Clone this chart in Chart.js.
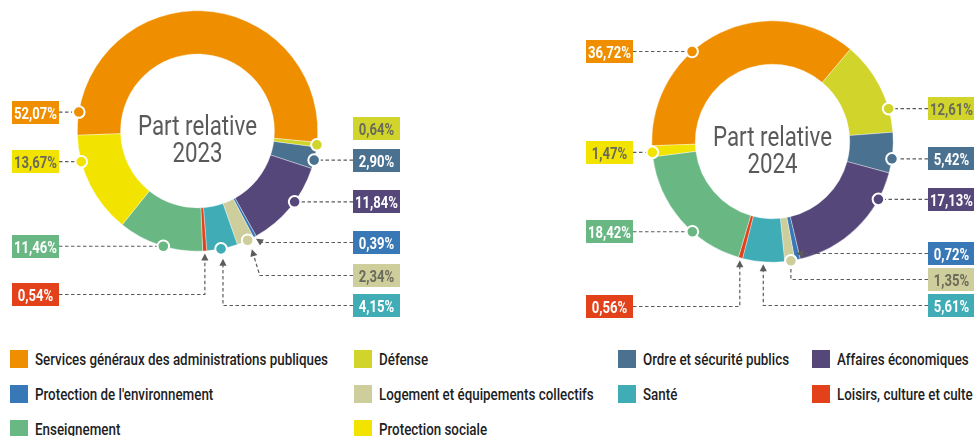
<!DOCTYPE html>
<html>
<head>
<meta charset="utf-8">
<script src="https://cdn.jsdelivr.net/npm/chart.js@4.4.1/dist/chart.umd.min.js"></script>
<style>
  html, body { margin: 0; padding: 0; background: #ffffff; }
  body {
    width: 974px; height: 436px; position: relative; overflow: hidden;
    font-family: "Roboto", "DejaVu Sans", sans-serif;
  }
  canvas { position: absolute; top: 0; }
  #chart2023 { left: 0; }
  #chart2024 { left: 487px; }
  .lg-item { position: absolute; height: 18px; white-space: nowrap; }
  .lg-swatch { position: absolute; left: 0; top: 0; width: 18px; height: 18px; }
  .lg-text {
    position: absolute; left: 25px; top: -1px; font-size: 17px; font-weight: 500; line-height: 20px;
    color: #1e1e1e; transform-origin: 0 50%;
  }
</style>
</head>
<body>
<canvas id="chart2023" width="487" height="330"></canvas>
<canvas id="chart2024" width="487" height="330"></canvas>
<div id="legend"></div>
<script>
// Budget functions (COFOG groups)
const categories = [
  "Services généraux des administrations publiques",
  "Défense",
  "Ordre et sécurité publics",
  "Affaires économiques",
  "Protection de l'environnement",
  "Logement et équipements collectifs",
  "Santé",
  "Loisirs, culture et culte",
  "Enseignement",
  "Protection sociale"
];

// Relative share of each function, in percent
const share2023 = [52.07, 0.64, 2.90, 11.84, 0.39, 2.34, 4.15, 0.54, 11.46, 13.67];
const share2024 = [36.72, 12.61, 5.42, 17.13, 0.72, 1.35, 5.61, 0.56, 18.42, 1.47];

const centerTitle = "Part relative";
const years = ["2023", "2024"];

// Styling
const sliceColors = ["#EF8F00", "#D1D52B", "#4A7190", "#55477A", "#3878B6",
                     "#CDCE9B", "#3FACB6", "#E3411A", "#69B884", "#F2E400"];
const boxTextColors = ["#ffffff", "#6a6a5a", "#ffffff", "#ffffff", "#ffffff",
                       "#6a6a5a", "#ffffff", "#ffffff", "#ffffff", "#6a6a5a"];

const FONT = '"Roboto", "DejaVu Sans", sans-serif';
const LINE = "#5c5c5c";

// Condensed look: text is squeezed horizontally to these widths
const measureCtx = document.createElement("canvas").getContext("2d");
function squeezeFor(sample, font, width) {
  measureCtx.font = font;
  return Math.min(1, width / measureCtx.measureText(sample).width);
}
const BOX_FONT = "bold 16px " + FONT;
const CENTER_FONT = "28px " + FONT;
const BOX_SQUEEZE = squeezeFor("52,07%", BOX_FONT, 43);
const CENTER_SQUEEZE = squeezeFor(centerTitle, CENTER_FONT, 119);
const LEGEND_SQUEEZE = squeezeFor(categories[0], "500 17px " + FONT, 293);

function squeezedText(ctx, text, x, y, k) {
  ctx.save();
  ctx.translate(x, y);
  ctx.scale(k, 1);
  ctx.fillText(text, 0, 0);
  ctx.restore();
}

// Callout layout for each slice.
// kind: h = dot + horizontal leader, none = dot only, arrowV/arrowD/arrowH = arrow leaders,
// dotV = dot with vertical-then-horizontal leader. dot = position of the dot along the arc (0..1).
const callouts2023 = [
  { side: "L", kind: "h", dot: 0.059 },
  { side: "R", kind: "none", dot: 0.5, boxY: 128.5 },
  { side: "R", kind: "h", dot: 0.6 },
  { side: "R", kind: "h", dot: 0.42 },
  { side: "R", kind: "arrowD", boxY: 242.5, elbowDx: 6 },
  { side: "R", kind: "arrowD", dot: 0.37, boxY: 275.5, elbowDx: 8 },
  { side: "R", kind: "arrowV", dot: 0.54, boxY: 305.5 },
  { side: "L", kind: "arrowV", boxY: 294.5 },
  { side: "L", kind: "h", dot: 0.46 },
  { side: "L", kind: "h", dot: 0.74 }
];
const callouts2024 = [
  { side: "L", kind: "h", dot: 0.38 },
  { side: "R", kind: "h", dot: 0.75 },
  { side: "R", kind: "h", dot: 0.65 },
  { side: "R", kind: "h", dot: 0.22 },
  { side: "R", kind: "arrowH", boxY: 253.5 },
  { side: "R", kind: "dotV", dot: 0.39, boxY: 279.5 },
  { side: "R", kind: "arrowV", boxY: 305.5 },
  { side: "L", kind: "arrowV", boxY: 306.5 },
  { side: "L", kind: "h", dot: 0.38 },
  { side: "L", kind: "h", dot: 0.4 }
];

function fmtPct(v) {
  return v.toFixed(2).replace(".", ",") + "%";
}

function drawArrow(ctx, from, tip) {
  const ang = Math.atan2(tip.y - from.y, tip.x - from.x);
  const len = 7, half = 3.6;
  ctx.save();
  ctx.setLineDash([]);
  ctx.fillStyle = LINE;
  ctx.beginPath();
  ctx.moveTo(tip.x, tip.y);
  ctx.lineTo(tip.x - len * Math.cos(ang) + half * Math.sin(ang), tip.y - len * Math.sin(ang) - half * Math.cos(ang));
  ctx.lineTo(tip.x - len * Math.cos(ang) - half * Math.sin(ang), tip.y - len * Math.sin(ang) + half * Math.cos(ang));
  ctx.closePath();
  ctx.fill();
  ctx.restore();
}

function dashed(ctx, pts, shortenEnd) {
  // pts run from the box toward the slice; optionally stop short for an arrow head
  const p = pts.map(q => ({ x: q.x, y: q.y }));
  if (shortenEnd) {
    const a = p[p.length - 2], b = p[p.length - 1];
    const d = Math.hypot(b.x - a.x, b.y - a.y);
    if (d > 0) {
      b.x -= (b.x - a.x) / d * shortenEnd;
      b.y -= (b.y - a.y) / d * shortenEnd;
    }
  }
  ctx.save();
  ctx.strokeStyle = LINE;
  ctx.lineWidth = 1.2;
  ctx.setLineDash([3.5, 2.5]);
  ctx.beginPath();
  ctx.moveTo(p[0].x, p[0].y);
  for (let i = 1; i < p.length; i++) ctx.lineTo(p[i].x, p[i].y);
  ctx.stroke();
  ctx.restore();
}

const calloutPlugin = {
  id: "callouts",
  afterDatasetsDraw(chart, args, opts) {
    const ctx = chart.ctx;
    const meta = chart.getDatasetMeta(0);
    const values = chart.data.datasets[0].data;
    const boxW = 47, boxH = 23;

    meta.data.forEach((arc, i) => {
      const c = opts.layout[i];
      const p = arc.getProps(["x", "y", "startAngle", "endAngle", "outerRadius"], true);
      const pointAt = (f, r) => {
        const a = p.startAngle + f * (p.endAngle - p.startAngle);
        return { x: p.x + r * Math.cos(a), y: p.y + r * Math.sin(a), a };
      };

      let dot = null;
      if (c.dot !== undefined) dot = pointAt(c.dot, p.outerRadius);

      let boxY = c.boxY !== undefined ? c.boxY : (dot ? dot.y : p.y);
      const boxX = c.side === "L" ? opts.leftX : opts.rightX;
      const edgeX = c.side === "L" ? boxX + boxW : boxX;

      // leader lines
      if (c.kind === "h") {
        dashed(ctx, [{ x: edgeX, y: boxY }, { x: dot.x, y: dot.y }]);
      } else if (c.kind === "dotV") {
        dashed(ctx, [{ x: edgeX, y: boxY }, { x: dot.x, y: boxY }, { x: dot.x, y: dot.y }]);
      } else if (c.kind === "arrowV" || c.kind === "arrowD") {
        let tip;
        if (dot) {
          tip = pointAt(c.dot, p.outerRadius + 10);
        } else {
          tip = pointAt(0.5, p.outerRadius + 2.5);
        }
        const elbow = { x: tip.x + (c.kind === "arrowD" ? c.elbowDx : 0), y: boxY };
        dashed(ctx, [{ x: edgeX, y: boxY }, elbow, tip], 6);
        drawArrow(ctx, elbow, tip);
      } else if (c.kind === "arrowH") {
        const mid = pointAt(0.5, 1);
        const dirY = (mid.y - p.y);
        let r = dirY !== 0 ? (boxY - p.y) / dirY : p.outerRadius;
        r = Math.min(r, p.outerRadius);
        const tip = pointAt(0.5, r);
        const from = { x: edgeX, y: tip.y };
        dashed(ctx, [from, tip], 6);
        drawArrow(ctx, from, tip);
        boxY = tip.y;
      }

      // dot marker on the ring
      if (dot) {
        ctx.save();
        ctx.beginPath();
        ctx.arc(dot.x, dot.y, 5.8, 0, Math.PI * 2);
        ctx.fillStyle = sliceColors[i];
        ctx.fill();
        ctx.lineWidth = 2;
        ctx.strokeStyle = "#ffffff";
        ctx.stroke();
        ctx.restore();
      }

      // value box
      const top = Math.round(boxY - boxH / 2);
      ctx.save();
      ctx.fillStyle = sliceColors[i];
      ctx.fillRect(boxX, top, boxW, boxH);
      ctx.fillStyle = boxTextColors[i];
      ctx.font = BOX_FONT;
      ctx.textAlign = "center";
      ctx.textBaseline = "alphabetic";
      squeezedText(ctx, fmtPct(values[i]), boxX + boxW / 2, top + 17.5, BOX_SQUEEZE);
      ctx.restore();
    });

    // centre caption
    const a0 = meta.data[0].getProps(["x", "y"], true);
    ctx.save();
    ctx.fillStyle = "#5a5a5a";
    ctx.font = CENTER_FONT;
    ctx.textAlign = "center";
    ctx.textBaseline = "alphabetic";
    squeezedText(ctx, centerTitle, a0.x, a0.y + 4, CENTER_SQUEEZE);
    squeezedText(ctx, opts.year, a0.x, a0.y + 31, CENTER_SQUEEZE);
    ctx.restore();
  }
};

function makeChart(id, values, year, layout, padding, leftX, rightX) {
  return new Chart(document.getElementById(id), {
    type: "doughnut",
    data: {
      labels: categories,
      datasets: [{
        data: values,
        backgroundColor: sliceColors,
        borderColor: "rgba(255,255,255,0.6)",
        borderWidth: 0.6,
        hoverOffset: 0
      }]
    },
    options: {
      responsive: false,
      devicePixelRatio: 1,
      animation: false,
      rotation: -92,
      cutout: "64%",
      layout: { padding },
      plugins: {
        legend: { display: false },
        tooltip: { enabled: false },
        callouts: { layout, year, leftX, rightX }
      },
      events: []
    },
    plugins: [calloutPlugin]
  });
}

makeChart("chart2023", share2023, years[0], callouts2023,
  { left: 77, top: 10, right: 169, bottom: 78 }, 12, 353);
makeChart("chart2024", share2024, years[1], callouts2024,
  { left: 164.5, top: 20.5, right: 80.5, bottom: 67.5 }, 99, 441);

// Legend, four entries per row
const legendCols = [10, 354, 618, 812];
const legendRows = [350, 385, 420];
const legend = document.getElementById("legend");
categories.forEach((name, i) => {
  const item = document.createElement("div");
  item.className = "lg-item";
  item.style.left = legendCols[i % 4] + "px";
  item.style.top = legendRows[Math.floor(i / 4)] + "px";
  const sw = document.createElement("div");
  sw.className = "lg-swatch";
  sw.style.background = sliceColors[i];
  const tx = document.createElement("div");
  tx.className = "lg-text";
  tx.style.transform = "scaleX(" + LEGEND_SQUEEZE + ")";
  tx.textContent = name;
  item.appendChild(sw);
  item.appendChild(tx);
  legend.appendChild(item);
});
</script>
</body>
</html>
